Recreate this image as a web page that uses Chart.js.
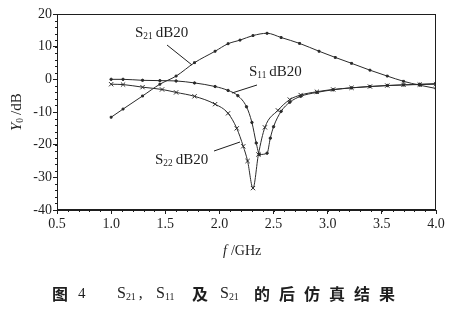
<!DOCTYPE html>
<html lang="zh">
<head>
<meta charset="UTF-8" />
<title>S参数后仿真</title>
<script src="https://cdn.jsdelivr.net/npm/chart.js"></script>
<style>
  body { margin: 0; background: #fff; }
  #box { width: 457px; height: 318px; }
</style>
</head>
<body>
<div id="box"><canvas id="grafico" width="457" height="318"></canvas></div>
<script>
  // valores
  var s21Freq = [1.0, 1.11, 1.29, 1.45, 1.6, 1.77, 1.96, 2.08, 2.19, 2.31, 2.44, 2.57, 2.74, 2.92, 3.07, 3.22, 3.39, 3.55, 3.7, 3.85, 4.0];
  var s21Db = [-11.6, -9.1, -5.1, -1.5, 1.0, 5.1, 8.6, 10.9, 12.0, 13.4, 14.1, 12.8, 11.0, 8.6, 6.7, 4.9, 2.8, 1.0, -0.6, -1.8, -2.8];

  var s11Freq = [1.0, 1.11, 1.29, 1.45, 1.6, 1.77, 1.96, 2.08, 2.17, 2.25, 2.3, 2.34, 2.37, 2.44, 2.47, 2.5, 2.57, 2.65, 2.75, 2.9, 3.05, 3.22, 3.39, 3.55, 3.7, 3.85, 4.0];
  var s11Db = [0, 0, -0.3, -0.4, -0.5, -1.1, -2.2, -3.4, -5.0, -8.4, -13.2, -19.5, -23, -22.6, -18, -14.5, -9.8, -7, -5.2, -4, -3.2, -2.6, -2.2, -1.9, -1.7, -1.5, -1.3];

  var s22Freq = [1.0, 1.11, 1.29, 1.47, 1.6, 1.77, 1.96, 2.08, 2.16, 2.22, 2.26, 2.31, 2.36, 2.42, 2.54, 2.65, 2.75, 2.9, 3.05, 3.22, 3.39, 3.55, 3.7, 3.85, 4.0];
  var s22Db = [-1.5, -1.6, -2.4, -3.1, -4.0, -5.2, -7.6, -10.4, -15, -20.5, -25, -33.3, -23, -14.7, -9.5, -6.2, -4.8, -3.8, -3.1, -2.6, -2.2, -1.9, -1.7, -1.6, -1.5];

  var xTicks = [0.5, 1.0, 1.5, 2.0, 2.5, 3.0, 3.5, 4.0];
  var yTicks = [20, 10, 0, -10, -20, -30, -40];

  function pontos(fs, vs) {
    var out = [];
    for (var i = 0; i < fs.length; i++) out.push({ x: fs[i], y: vs[i] });
    return out;
  }

  var serif = '"Liberation Serif", "DejaVu Serif", serif';
  var cjk = '"Noto Sans CJK SC", sans-serif';
  var tinta = "#1e1e1e";

  // desenha texto com partes em subscrito
  function textoSub(ctx, partes, x, y, tam) {
    var cx = x;
    for (var i = 0; i < partes.length; i++) {
      var p = partes[i];
      var t = p.sub ? tam * 0.62 : tam;
      ctx.font = (p.it ? "italic " : "") + t + "px " + serif;
      ctx.fillText(p.t, cx, p.sub ? y + tam * 0.22 : y);
      cx += ctx.measureText(p.t).width + (p.sp || 0);
    }
    return cx;
  }

  var extras = {
    id: "extras",
    afterDraw: function (chart) {
      var ctx = chart.ctx;
      var a = chart.chartArea;
      var xs = chart.scales.x, ys = chart.scales.y;
      ctx.save();
      ctx.strokeStyle = tinta;
      ctx.lineWidth = 1;
      ctx.strokeRect(a.left + 0.5, a.top + 0.5, a.right - a.left - 1, a.bottom - a.top - 1);

      // marcas menores
      ctx.beginPath();
      for (var v = -40; v <= 20; v += 2) {
        var py = Math.round(ys.getPixelForValue(v)) + 0.5;
        ctx.moveTo(a.left - 2, py); ctx.lineTo(a.left, py);
      }
      for (var f = 5; f <= 40; f += 1) {
        var px = Math.round(xs.getPixelForValue(f / 10)) + 0.5;
        ctx.moveTo(px, a.bottom); ctx.lineTo(px, a.bottom + 2);
      }
      ctx.stroke();

      ctx.fillStyle = tinta;
      ctx.textBaseline = "middle";
      ctx.textAlign = "left";

      // rotulos das curvas
      textoSub(ctx, [{ t: "S" }, { t: "21", sub: true, sp: 3 }, { t: "dB20" }], 135, 33, 15);
      textoSub(ctx, [{ t: "S" }, { t: "11", sub: true, sp: 3 }, { t: "dB20" }], 249, 72, 15);
      textoSub(ctx, [{ t: "S" }, { t: "22", sub: true, sp: 3 }, { t: "dB20" }], 155, 160, 15);

      ctx.beginPath();
      ctx.moveTo(167, 45); ctx.lineTo(192, 65);
      ctx.moveTo(257, 85); ctx.lineTo(232, 93);
      ctx.moveTo(214, 151); ctx.lineTo(240, 142);
      ctx.stroke();

      // titulo eixo x
      textoSub(ctx, [{ t: "f", it: true, sp: 4 }, { t: "/GHz" }], 223, 251, 14);

      // titulo eixo y
      ctx.save();
      ctx.translate(17, 131);
      ctx.rotate(-Math.PI / 2);
      textoSub(ctx, [{ t: "Y", it: true }, { t: "0", sub: true, sp: 3 }, { t: "/dB" }], 0, 0, 15);
      ctx.restore();

      // legenda da figura
      var cy = 294;
      ctx.font = "bold 16px " + cjk;
      ctx.fillText("图", 52, cy);
      ctx.font = "15px " + serif;
      ctx.fillText("4", 78, cy);
      textoSub(ctx, [{ t: "S" }, { t: "21", sub: true, sp: 3 }, { t: "," }], 117, cy, 16);
      textoSub(ctx, [{ t: "S" }, { t: "11", sub: true }], 156, cy, 16);
      ctx.font = "bold 16px " + cjk;
      ctx.fillText("及", 192, cy);
      textoSub(ctx, [{ t: "S" }, { t: "21", sub: true }], 220, cy, 16);
      ctx.font = "bold 16px " + cjk;
      var chars = ["的", "后", "仿", "真", "结", "果"];
      for (var k = 0; k < chars.length; k++) ctx.fillText(chars[k], 254 + k * 25, cy);
      ctx.restore();
    }
  };

  var estiloLinha = { borderColor: "#2a2a2a", borderWidth: 1, showLine: true, cubicInterpolationMode: "monotone", pointBorderColor: "#2a2a2a", pointBackgroundColor: "#2a2a2a" };

  new Chart(grafico, {
    type: "scatter",
    data: {
      datasets: [
        Object.assign({ label: "S21 dB20", data: pontos(s21Freq, s21Db), pointStyle: "rect", pointRadius: 1.3, pointBorderWidth: 1 }, estiloLinha),
        Object.assign({ label: "S11 dB20", data: pontos(s11Freq, s11Db), pointStyle: "circle", pointRadius: 1.2, pointBorderWidth: 1 }, estiloLinha),
        Object.assign({ label: "S22 dB20", data: pontos(s22Freq, s22Db), pointStyle: "crossRot", pointRadius: 3, pointBorderWidth: 1 }, estiloLinha),
      ],
    },
    options: {
      responsive: false,
      animation: false,
      layout: { padding: { top: 14, right: 21, bottom: 0, left: 0 } },
      plugins: { legend: { display: false }, tooltip: { enabled: false } },
      scales: {
        x: {
          type: "linear",
          min: 0.5,
          max: 4.0,
          afterBuildTicks: function (s) { s.ticks = xTicks.map(function (v) { return { value: v }; }); },
          afterFit: function (s) { s.height = 108; },
          ticks: { color: tinta, font: { family: serif, size: 14 }, padding: 2, maxRotation: 0, callback: function (v) { return v.toFixed(1); } },
          grid: { drawOnChartArea: false, color: tinta, tickLength: 4 },
          border: { color: tinta },
        },
        y: {
          min: -40,
          max: 20,
          afterBuildTicks: function (s) { s.ticks = yTicks.map(function (v) { return { value: v }; }); },
          afterFit: function (s) { s.width = 57; },
          ticks: { color: tinta, font: { family: serif, size: 14 }, padding: 1 },
          grid: { drawOnChartArea: false, color: tinta, tickLength: 4 },
          border: { color: tinta },
        },
      },
    },
    plugins: [extras],
  });
</script>
</body>
</html>
